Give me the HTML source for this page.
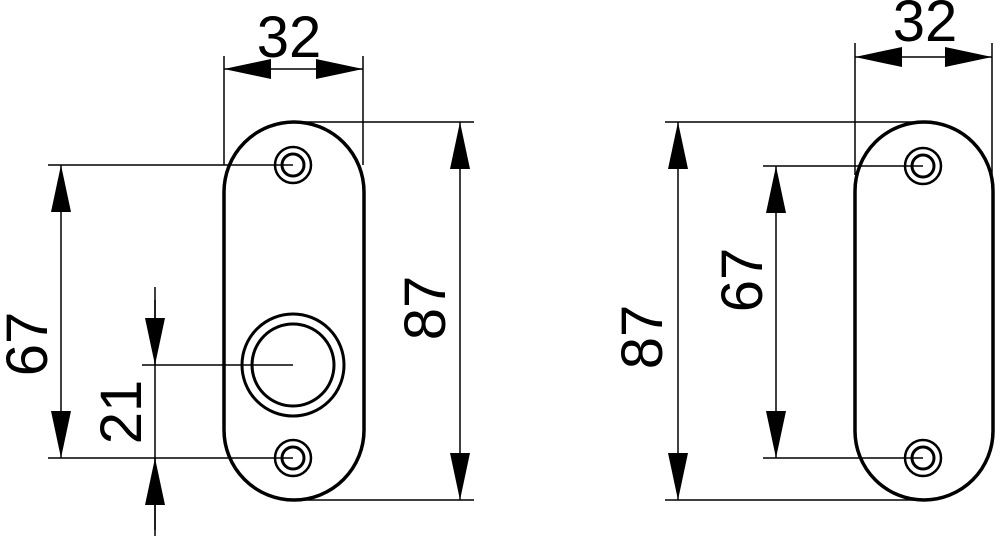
<!DOCTYPE html>
<html><head><style>html,body{margin:0;padding:0;background:#fff}svg{display:block}</style></head><body>
<svg width="1000" height="544" viewBox="0 0 1000 544" xmlns="http://www.w3.org/2000/svg" font-family="Liberation Sans, sans-serif" font-size="58">
<defs>
<marker id="a" viewBox="0 0 47 20" refX="47" refY="10" markerWidth="47" markerHeight="20" markerUnits="userSpaceOnUse" orient="auto"><path d="M0,0 L47,10 L0,20 Z" fill="#000"/></marker>
</defs>
<g fill="none" stroke="#000">
<!-- left plate -->
<rect x="224" y="122" width="140" height="378" rx="70" stroke-width="3.5"/>
<circle cx="293" cy="165" r="18" stroke-width="2.5"/><circle cx="293" cy="165" r="11" stroke-width="3"/>
<circle cx="293" cy="458" r="18" stroke-width="2.5"/><circle cx="293" cy="458" r="11" stroke-width="3"/>
<circle cx="293" cy="365" r="51" stroke-width="3"/><circle cx="293" cy="365" r="41" stroke-width="3"/>
<g stroke-width="1.5">
<line x1="224" y1="56" x2="224" y2="165"/><line x1="363" y1="56" x2="363" y2="165"/>
<line x1="300" y1="122" x2="474" y2="122"/><line x1="300" y1="500" x2="474" y2="500"/>
<line x1="48" y1="165" x2="293" y2="165"/><line x1="48" y1="458" x2="293" y2="458"/>
<line x1="142" y1="365" x2="293" y2="365"/>
<line x1="155" y1="287" x2="155" y2="536"/>
</g>
<g stroke-width="1.5">
<line x1="294" y1="69" x2="224" y2="69" marker-end="url(#a)"/><line x1="294" y1="69" x2="363" y2="69" marker-end="url(#a)"/>
<line x1="460" y1="310" x2="460" y2="122" marker-end="url(#a)"/><line x1="460" y1="310" x2="460" y2="500" marker-end="url(#a)"/>
<line x1="61" y1="310" x2="61" y2="165" marker-end="url(#a)"/><line x1="61" y1="310" x2="61" y2="458" marker-end="url(#a)"/>
<line x1="155" y1="300" x2="155" y2="365" marker-end="url(#a)"/><line x1="155" y1="530" x2="155" y2="458" marker-end="url(#a)"/>
</g>
<!-- right plate -->
<rect x="855" y="122" width="138" height="378" rx="69" stroke-width="3.5"/>
<circle cx="923" cy="166" r="18" stroke-width="2.5"/><circle cx="923" cy="166" r="11" stroke-width="3"/>
<circle cx="923" cy="458" r="18" stroke-width="2.5"/><circle cx="923" cy="458" r="11" stroke-width="3"/>
<g stroke-width="1.5">
<line x1="855" y1="43" x2="855" y2="175"/><line x1="992" y1="43" x2="992" y2="175"/>
<line x1="665" y1="122" x2="925" y2="122"/><line x1="665" y1="500" x2="925" y2="500"/>
<line x1="763" y1="166" x2="923" y2="166"/><line x1="763" y1="458" x2="923" y2="458"/>
<line x1="924" y1="57" x2="855" y2="57" marker-end="url(#a)"/><line x1="924" y1="57" x2="992" y2="57" marker-end="url(#a)"/>
<line x1="678" y1="310" x2="678" y2="122" marker-end="url(#a)"/><line x1="678" y1="310" x2="678" y2="500" marker-end="url(#a)"/>
<line x1="776" y1="310" x2="776" y2="166" marker-end="url(#a)"/><line x1="776" y1="310" x2="776" y2="458" marker-end="url(#a)"/>
</g>
</g>
<g fill="#000" text-anchor="middle">
<text x="289" y="57">32</text>
<text x="925" y="41">32</text>
<text transform="translate(445,308) rotate(-90)">87</text>
<text transform="translate(47,344) rotate(-90)">67</text>
<text transform="translate(141,412) rotate(-90)">21</text>
<text transform="translate(662,337) rotate(-90)">87</text>
<text transform="translate(762,280) rotate(-90)">67</text>
</g>
</svg>
</body></html>
